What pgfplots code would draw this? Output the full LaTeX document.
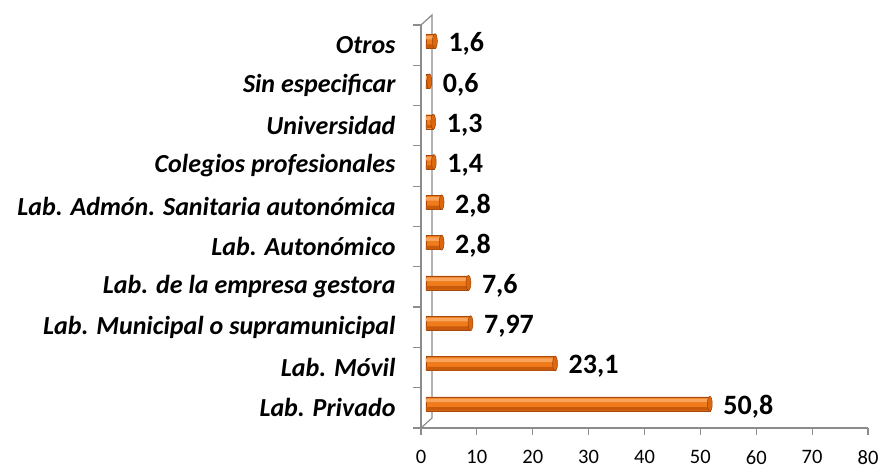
\documentclass[border=0pt]{standalone}
\usepackage{pgfplots}
\pgfplotsset{compat=1.18}
\usepackage{fontspec}
\setmainfont{Carlito}

\definecolor{barHi}{HTML}{F9A45C}
\definecolor{barMid}{HTML}{F07B1B}
\definecolor{barLow}{HTML}{C85A0C}
\definecolor{barEdge}{HTML}{A8480C}
\definecolor{capFill}{HTML}{DC670E}
\definecolor{capEdge}{HTML}{9A420A}
\definecolor{axisGray}{HTML}{8C8C8C}

\pgfplotstableread{
y  val   lbl
0  50.8  {50,8}
1  23.1  {23,1}
2  7.97  {7,97}
3  7.6   {7,6}
4  2.8   {2,8}
5  2.8   {2,8}
6  1.4   {1,4}
7  1.3   {1,3}
8  0.6   {0,6}
9  1.6   {1,6}
}\labdata

\begin{document}
\begin{tikzpicture}
\useasboundingbox (0,0) rectangle (879pt,468pt);
\begin{axis}[
  at={(421pt,40pt)}, anchor=south west,
  scale only axis, width=447pt, height=403pt,
  xmin=0, xmax=80, ymin=-0.5, ymax=9.5,
  xtick={0,10,...,80},
  ytick={0,...,9},
  yticklabels={Lab. Privado, Lab. Móvil, Lab. Municipal o supramunicipal,
    Lab. de la empresa gestora, Lab. Autonómico,
    Lab. Admón. Sanitaria autonómica, Colegios profesionales,
    Universidad, Sin especificar, Otros},
  axis x line*=bottom, axis y line*=left,
  axis line style={axisGray, line width=1.2pt, -},
  x tick style={axisGray, line width=1.2pt},
  y tick style={draw=none},
  tick align=outside, major tick length=7pt,
  extra y ticks={-0.5,0.5,...,9.5}, extra y tick labels={},
  extra y tick style={y tick style={axisGray, line width=1.2pt, draw=axisGray}, major tick length=8pt},
  xticklabel shift=14pt,
  xticklabel style={font=\fontsize{20.5}{24}\selectfont, text=black, inner sep=1pt},
  yticklabel style={font=\fontsize{26}{30}\selectfont\bfseries\itshape, text=black, xshift=-15pt},
  /pgf/number format/assume math mode=true,
  clip=false,
]
% back wall of the 3-D frame
\draw[axisGray, line width=1.2pt]
  (axis cs:0,-0.5) -- ++(11pt,10pt) -- ([xshift=11pt,yshift=10pt]axis cs:0,9.5) -- (axis cs:0,9.5);
% cylinder body: base, dark underside, light highlight
\addplot[xbar, bar width=14pt, draw=barEdge, line width=0.4pt, fill=barMid,
  xshift=5pt, yshift=4pt]
  table[x=val, y=y] {\labdata};
\addplot[xbar, bar width=3.5pt, draw=none, fill=barLow,
  xshift=5pt, yshift=-1pt]
  table[x=val, y=y] {\labdata};
\addplot[xbar, bar width=3.5pt, draw=none, fill=barHi,
  xshift=5pt, yshift=7.5pt]
  table[x=val, y=y] {\labdata};
% end caps and value labels
\addplot[only marks, mark=*, mark size=7.5pt,
  mark options={xscale=0.32, fill=capFill, draw=capEdge, line width=0.5pt},
  xshift=5pt, yshift=4pt,
  point meta=explicit symbolic,
  nodes near coords,
  nodes near coords style={anchor=west, font=\fontsize{28}{32}\selectfont\bfseries,
    text=black, xshift=10pt, yshift=-3pt}]
  table[x=val, y=y, meta=lbl] {\labdata};
\end{axis}
\end{tikzpicture}
\end{document}
